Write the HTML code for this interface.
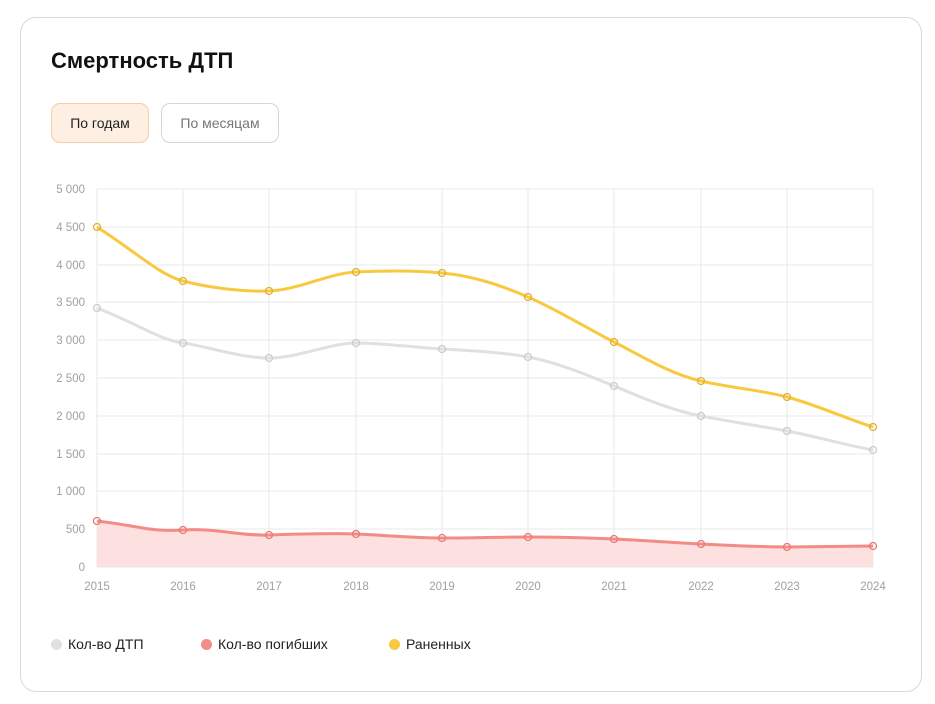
<!DOCTYPE html>
<html><head><meta charset="utf-8"><style>
body{margin:0;background:#fff;width:935px;height:704px;font-family:"Liberation Sans",sans-serif;position:relative;overflow:hidden}
.card{position:absolute;left:20px;top:17px;width:902px;height:675px;border:1px solid #d9d9d9;border-radius:16px;box-sizing:border-box}
h1{position:absolute;left:51px;top:48px;margin:0;font-size:22px;font-weight:bold;color:#111}
.btn{position:absolute;top:103px;height:40px;box-sizing:border-box;border-radius:9px;font-size:14px;line-height:38px;text-align:center}
.b1{left:51px;width:98px;background:#fdf0e3;border:1px solid #f3cfa6;color:#222}
.b2{left:161px;width:118px;background:#fff;border:1px solid #d5d5d5;color:#777}
svg{position:absolute;left:0;top:0}
.lg{position:absolute;top:636px;font-size:14px;color:#222}
.lg i{display:inline-block;width:11px;height:11px;border-radius:50%;margin-right:6px;vertical-align:-1px}
</style></head><body>
<div class="card"></div>
<h1>Смертность ДТП</h1>
<div class="btn b1">По годам</div>
<div class="btn b2">По месяцам</div>
<svg width="935" height="704" font-family="Liberation Sans" font-size="11.5" fill="#a0a0a0">
<g stroke="#e8e8e8" stroke-width="1">
<line x1="97" y1="189" x2="873" y2="189"/><line x1="97" y1="227" x2="873" y2="227"/><line x1="97" y1="265" x2="873" y2="265"/><line x1="97" y1="302" x2="873" y2="302"/><line x1="97" y1="340" x2="873" y2="340"/><line x1="97" y1="378" x2="873" y2="378"/><line x1="97" y1="416" x2="873" y2="416"/><line x1="97" y1="454" x2="873" y2="454"/><line x1="97" y1="491" x2="873" y2="491"/><line x1="97" y1="529" x2="873" y2="529"/><line x1="97" y1="567" x2="873" y2="567"/>
<line x1="97" y1="189" x2="97" y2="567"/><line x1="183" y1="189" x2="183" y2="567"/><line x1="269" y1="189" x2="269" y2="567"/><line x1="356" y1="189" x2="356" y2="567"/><line x1="442" y1="189" x2="442" y2="567"/><line x1="528" y1="189" x2="528" y2="567"/><line x1="614" y1="189" x2="614" y2="567"/><line x1="701" y1="189" x2="701" y2="567"/><line x1="787" y1="189" x2="787" y2="567"/><line x1="873" y1="189" x2="873" y2="567"/>
</g>
<g text-anchor="end">
<text x="85" y="193">5 000</text><text x="85" y="231">4 500</text><text x="85" y="269">4 000</text><text x="85" y="306">3 500</text><text x="85" y="344">3 000</text><text x="85" y="382">2 500</text><text x="85" y="420">2 000</text><text x="85" y="458">1 500</text><text x="85" y="495">1 000</text><text x="85" y="533">500</text><text x="85" y="571">0</text>
</g>
<g text-anchor="middle">
<text x="97" y="590">2015</text><text x="183" y="590">2016</text><text x="269" y="590">2017</text><text x="356" y="590">2018</text><text x="442" y="590">2019</text><text x="528" y="590">2020</text><text x="614" y="590">2021</text><text x="701" y="590">2022</text><text x="787" y="590">2023</text><text x="873" y="590">2024</text>
</g>
<path d="M97,521 C140,526 150,532 183,530 S240,536 269,535 S330,533 356,534 S410,538 442,538 S500,537 528,537 S590,538 614,539 S680,543 701,544 S760,547 787,547 L873,546 L873,567 L97,567Z" fill="#fde0e0"/>
<path d="M97,308 C140,325 160,340 183,343 S240,358 269,358 S330,343 356,343 S410,347 442,349 S500,352 528,357 S590,376 614,386 S670,410 701,416 S760,426 787,431 S850,446 873,450" fill="none" stroke="#e0e0e0" stroke-width="3"/>
<path d="M97,521 C140,526 150,532 183,530 S240,536 269,535 S330,533 356,534 S410,538 442,538 S500,537 528,537 S590,538 614,539 S680,543 701,544 S760,547 787,547 L873,546" fill="none" stroke="#f38b87" stroke-width="3"/>
<path d="M97,227 C140,255 160,275 183,281 S240,292 269,291 S330,273 356,272 S410,270 442,273 S500,285 528,297 S590,330 614,342 S670,374 701,381 S760,390 787,397 S850,420 873,427" fill="none" stroke="#f8c93e" stroke-width="3"/>
<g fill="none" stroke-width="1.3">
<g stroke="#ccc"><circle cx="97" cy="308" r="3.5"/><circle cx="183" cy="343" r="3.5"/><circle cx="269" cy="358" r="3.5"/><circle cx="356" cy="343" r="3.5"/><circle cx="442" cy="349" r="3.5"/><circle cx="528" cy="357" r="3.5"/><circle cx="614" cy="386" r="3.5"/><circle cx="701" cy="416" r="3.5"/><circle cx="787" cy="431" r="3.5"/><circle cx="873" cy="450" r="3.5"/></g>
<g stroke="#e87a76"><circle cx="97" cy="521" r="3.5"/><circle cx="183" cy="530" r="3.5"/><circle cx="269" cy="535" r="3.5"/><circle cx="356" cy="534" r="3.5"/><circle cx="442" cy="538" r="3.5"/><circle cx="528" cy="537" r="3.5"/><circle cx="614" cy="539" r="3.5"/><circle cx="701" cy="544" r="3.5"/><circle cx="787" cy="547" r="3.5"/><circle cx="873" cy="546" r="3.5"/></g>
<g stroke="#e0b030"><circle cx="97" cy="227" r="3.5"/><circle cx="183" cy="281" r="3.5"/><circle cx="269" cy="291" r="3.5"/><circle cx="356" cy="272" r="3.5"/><circle cx="442" cy="273" r="3.5"/><circle cx="528" cy="297" r="3.5"/><circle cx="614" cy="342" r="3.5"/><circle cx="701" cy="381" r="3.5"/><circle cx="787" cy="397" r="3.5"/><circle cx="873" cy="427" r="3.5"/></g>
</g>
</svg>
<div class="lg" style="left:51px"><i style="background:#e0e0e0"></i>Кол-во ДТП</div>
<div class="lg" style="left:201px"><i style="background:#f38b87"></i>Кол-во погибших</div>
<div class="lg" style="left:389px"><i style="background:#f8c93e"></i>Раненных</div>
</body></html>
